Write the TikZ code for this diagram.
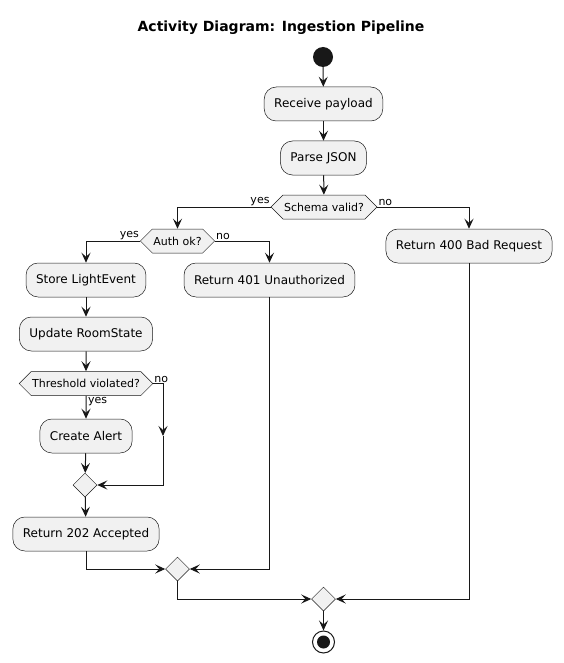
\documentclass[tikz,border=0pt]{standalone}
\usepackage{fontspec}
\setmainfont{DejaVu Sans}
\usetikzlibrary{shapes.geometric,shapes.symbols,arrows.meta}
\definecolor{actfill}{HTML}{F1F1F1}
\definecolor{actline}{HTML}{181818}

\begin{document}
\begin{tikzpicture}[x=1pt,y=-1pt]
    \tikzstyle{action}=[draw=actline,fill=actfill,line width=0.5pt,rounded corners=12pt,minimum height=34pt,inner xsep=10pt,font=\fontsize{12}{14}\selectfont]
    \tikzstyle{decision}=[draw=actline,fill=actfill,line width=0.5pt,shape=signal,signal to=west and east,signal pointer angle=90,minimum height=24pt,inner xsep=1pt,font=\fontsize{11}{13}\selectfont]
    \tikzstyle{merge}=[draw=actline,fill=actfill,line width=0.5pt,diamond,minimum width=24pt,minimum height=24pt,inner sep=0pt]
    \tikzstyle{flow}=[draw=actline,line width=1pt,-{Stealth[length=10pt,width=9pt,inset=4pt]}]
    \tikzstyle{branch}=[font=\fontsize{11}{13}\selectfont,inner sep=1pt]
    \useasboundingbox (0,0) rectangle (563,663);
    \node[font=\bfseries\fontsize{14}{16}\selectfont] (title) at (281,28) {Activity Diagram: Ingestion Pipeline};
    \node[circle,fill=actline,minimum size=20pt,inner sep=0pt] (start) at (323,57) {};
    \node[action] (recv) at (323.5,104) {Receive payload};
    \node[action] (parse) at (323.5,158) {Parse JSON};
    \node[decision] (schema) at (324,207) {Schema valid?};
    \node[decision] (auth) at (177.5,241) {Auth ok?};
    \node[action] (ret400) at (469,246) {Return 400 Bad Request};
    \node[action] (store) at (86,280) {Store LightEvent};
    \node[action] (ret401) at (269.5,280) {Return 401 Unauthorized};
    \node[action] (update) at (86,334) {Update RoomState};
    \node[decision] (thresh) at (86,383.5) {Threshold violated?};
    \node[action] (alert) at (86,436) {Create Alert};
    \node[merge] (mergeA) at (85,485) {};
    \node[action] (ret202) at (86,534) {Return 202 Accepted};
    \node[merge] (mergeB) at (177.5,569) {};
    \node[merge] (mergeC) at (323.5,599) {};
    \node[circle,draw=actline,fill=white,line width=1pt,minimum size=22pt,inner sep=0pt,
          path picture={\fill[actline] (path picture bounding box.center) circle (6.5pt);}] (stop) at (323.5,642) {};
    \coordinate (noturn) at (163,436);

    % branch labels
    \node[branch,anchor=south east] (schemayes) at (schema.west) {yes};
    \node[branch,anchor=south west] (schemano) at (schema.east) {no};
    \node[branch,anchor=south east] (authyes) at (auth.west) {yes};
    \node[branch,anchor=south west] (authno) at (auth.east) {no};
    \node[branch,anchor=south west] (threshno) at (thresh.east) {no};
    \node[branch,anchor=north west] (threshyes) at ([xshift=1pt]thresh.south) {yes};

    % flow
    \draw[flow] (start) -- (recv);
    \draw[flow] (recv) -- (parse);
    \draw[flow] (parse) -- (schema);
    \draw[flow] (schema.west) -| (auth.north);
    \draw[flow] (schema.east) -| (ret400.north);
    \draw[flow] (auth.west) -| (store.north);
    \draw[flow] (auth.east) -| (ret401.north);
    \draw[flow] (store) -- (update);
    \draw[flow] (update) -- (thresh);
    \draw[flow] (thresh) -- (alert);
    \draw[flow] (thresh.east) -| (noturn);
    \draw[flow] (noturn) |- (mergeA.east);
    \draw[flow] (alert) -- (mergeA);
    \draw[flow] (mergeA) -- (ret202);
    \draw[flow] (ret202.south) |- (mergeB.west);
    \draw[flow] (ret401.south) |- (mergeB.east);
    \draw[flow] (mergeB.south) |- (mergeC.west);
    \draw[flow] (ret400.south) |- (mergeC.east);
    \draw[flow] (mergeC) -- (stop);
\end{tikzpicture}
\end{document}
